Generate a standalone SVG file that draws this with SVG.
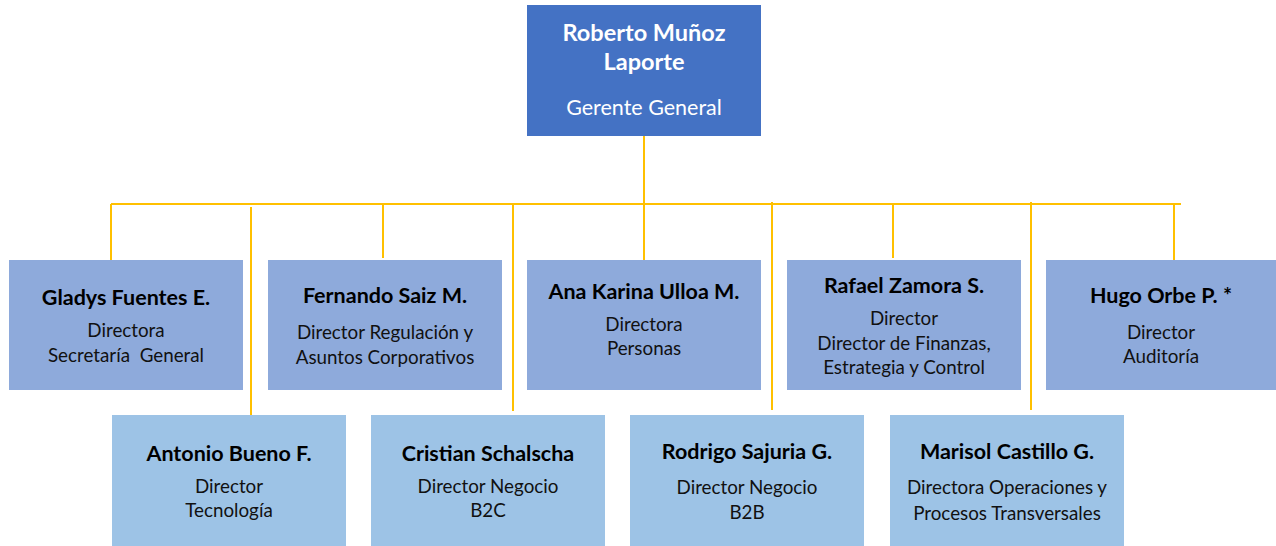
<svg xmlns="http://www.w3.org/2000/svg" width="1276" height="546" viewBox="0 0 1276 546">
<style>
.top{fill:#4472C4}
.r1{fill:#8EAADB}
.r2{fill:#9DC3E6}
text{font-family:Lato,"Open Sans","Liberation Sans",sans-serif;text-anchor:middle}
.n{font-size:21.5px;font-weight:bold;fill:#000}
.t{font-size:18.8px;fill:#111}
.tw{fill:#fff}
.c{stroke:#FFC000;stroke-width:2;fill:none}
</style>
<rect width="1276" height="546" fill="#fff"/>
<g id="connectors">
<path class="c" d="M644 136V204M111 204H1181M111 204V260M383 204V258M644 204V260M893 204V258M1174 204V260M251 207V415M513 204V411M772 202V410M1031 202V410"/>
</g>
<g id="n0"><rect class="top" x="527" y="5" width="234" height="131"/>
<text class="n tw" x="644" y="41" style="font-size:23.5px">Roberto Muñoz</text>
<text class="n tw" x="644" y="70" style="font-size:23.5px">Laporte</text>
<text class="t tw" x="644" y="115" style="font-size:21.5px">Gerente General</text></g>
<g id="n1"><rect class="r1" x="9" y="260" width="234" height="130"/>
<text class="n" x="126" y="305">Gladys Fuentes E.</text>
<text class="t" x="126" y="337">Directora</text>
<text class="t" x="126" y="362" xml:space="preserve">Secretaría  General</text></g>
<g id="n2"><rect class="r1" x="268" y="260" width="234" height="130"/>
<text class="n" x="385" y="303">Fernando Saiz M.</text>
<text class="t" x="385" y="339">Director Regulación y</text>
<text class="t" x="385" y="364">Asuntos Corporativos</text></g>
<g id="n3"><rect class="r1" x="527" y="260" width="234" height="130"/>
<text class="n" x="644" y="299">Ana Karina Ulloa M.</text>
<text class="t" x="644" y="331">Directora</text>
<text class="t" x="644" y="355">Personas</text></g>
<g id="n4"><rect class="r1" x="787" y="260" width="234" height="130"/>
<text class="n" x="904" y="293">Rafael Zamora S.</text>
<text class="t" x="904" y="325">Director</text>
<text class="t" x="904" y="350">Director de Finanzas,</text>
<text class="t" x="904" y="374">Estrategia y Control</text></g>
<g id="n5"><rect class="r1" x="1046" y="260" width="234" height="130"/>
<text class="n" x="1161" y="303">Hugo Orbe P. *</text>
<text class="t" x="1161" y="339">Director</text>
<text class="t" x="1161" y="363">Auditoría</text></g>
<g id="n6"><rect class="r2" x="112" y="415" width="234" height="135"/>
<text class="n" x="229" y="461">Antonio Bueno F.</text>
<text class="t" x="229" y="493">Director</text>
<text class="t" x="229" y="517">Tecnología</text></g>
<g id="n7"><rect class="r2" x="371" y="415" width="234" height="135"/>
<text class="n" x="488" y="461">Cristian Schalscha</text>
<text class="t" x="488" y="493">Director Negocio</text>
<text class="t" x="488" y="517">B2C</text></g>
<g id="n8"><rect class="r2" x="630" y="415" width="234" height="135"/>
<text class="n" x="747" y="459">Rodrigo Sajuria G.</text>
<text class="t" x="747" y="494">Director Negocio</text>
<text class="t" x="747" y="519">B2B</text></g>
<g id="n9"><rect class="r2" x="890" y="415" width="234" height="135"/>
<text class="n" x="1007" y="459">Marisol Castillo G.</text>
<text class="t" x="1007" y="494">Directora Operaciones y</text>
<text class="t" x="1007" y="520">Procesos Transversales</text></g>
</svg>
